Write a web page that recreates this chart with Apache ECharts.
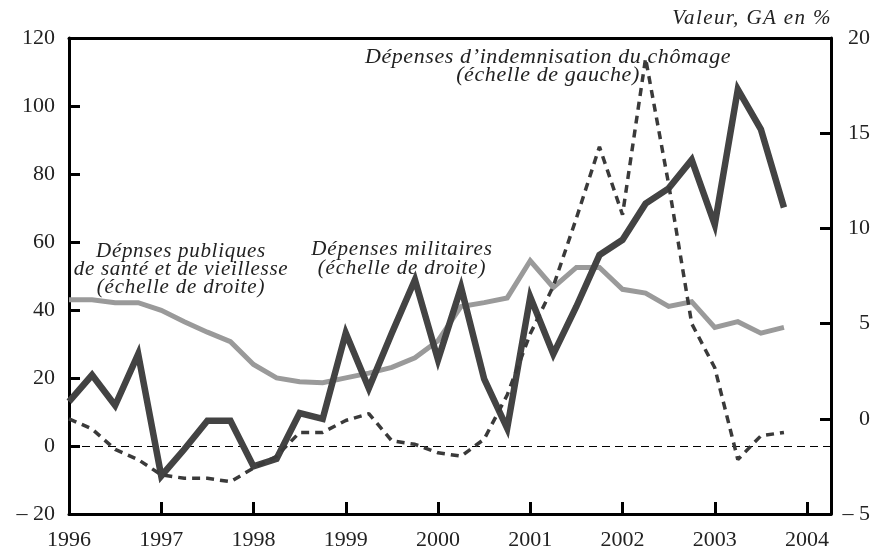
<!DOCTYPE html>
<html>
<head>
<meta charset="utf-8">
<script src="https://cdn.jsdelivr.net/npm/echarts@6/dist/echarts.min.js"></script>
<style>
  html, body { margin: 0; padding: 0; background: #fff; }
  #chart { width: 875px; height: 553px; }
</style>
</head>
<body>
<div id="chart"></div>
<script>
// Quarterly observations (decimal years)
const quarters = [
  1996.00, 1996.25, 1996.50, 1996.75,
  1997.00, 1997.25, 1997.50, 1997.75,
  1998.00, 1998.25, 1998.50, 1998.75,
  1999.00, 1999.25, 1999.50, 1999.75,
  2000.00, 2000.25, 2000.50, 2000.75,
  2001.00, 2001.25, 2001.50, 2001.75,
  2002.00, 2002.25, 2002.50, 2002.75,
  2003.00, 2003.25, 2003.50, 2003.75
];

// Dépenses d'indemnisation du chômage, GA en % (échelle de gauche)
const chomage = [
  8, 5, -1, -4,
  -8.5, -9.5, -9.5, -10.5,
  -6.5, -3, 4, 4,
  7.5, 9.5, 1.5, 0.5,
  -2, -3, 2, 15,
  33, 47, 67, 88,
  68, 114, 77, 36,
  23, -4, 3, 4
];

// Dépenses publiques de santé et de vieillesse, GA en % (échelle de droite)
const santeVieillesse = [
  6.25, 6.25, 6.1, 6.1,
  5.7, 5.1, 4.55, 4.05,
  2.85, 2.15, 1.95, 1.9,
  2.15, 2.4, 2.7, 3.2,
  4.1, 5.9, 6.1, 6.35,
  8.3, 6.9, 7.95, 7.95,
  6.8, 6.6, 5.9, 6.15,
  4.8, 5.1, 4.5, 4.8
];

// Dépenses militaires, GA en % (échelle de droite)
const militaires = [
  0.9, 2.3, 0.7, 3.4,
  -3.0, -1.6, -0.1, -0.1,
  -2.5, -2.1, 0.3, 0.0,
  4.5, 1.6, 4.5, 7.3,
  3.1, 6.9, 2.1, -0.5,
  6.4, 3.4, 5.9, 8.6,
  9.4, 11.3, 12.1, 13.6,
  10.2, 17.3, 15.2, 11.1
];

const pairs = (vals) => quarters.map((q, i) => [q, vals[i]]);
const FONT = '"Liberation Serif", "Times New Roman", serif';
const negFmt = (v) => (v < 0 ? '\u2013 ' + Math.abs(v) : String(v));

// Typeset annotations are slightly letter-spaced; set the canvas
// letterSpacing on every text draw (0 for everything else).
const tracking = {};
(function () {
  const proto = CanvasRenderingContext2D.prototype;
  const origFill = proto.fillText;
  proto.fillText = function (text, x, y, maxWidth) {
    if ('letterSpacing' in this) {
      const sp = (tracking[text] || 0) + 'px';
      if (this.letterSpacing !== sp) {
        this.letterSpacing = sp;
        const f = this.font;
        this.font = f;
      }
    }
    return maxWidth === undefined ? origFill.call(this, text, x, y) : origFill.call(this, text, x, y, maxWidth);
  };
})();

function label(text, x, y, size, spacing, align) {
  tracking[text] = spacing;
  return {
    type: 'text',
    x: x, y: y,
    style: {
      text: text,
      font: 'italic ' + size + 'px ' + FONT,
      fill: '#222',
      textAlign: align || 'center',
      textVerticalAlign: 'middle'
    }
  };
}

const chart = echarts.init(document.getElementById('chart'), null, { renderer: 'canvas' });

const axisLine = { show: true, onZero: false, lineStyle: { color: '#000', width: 3 } };
const tickStyle = { color: '#000', width: 3 };

chart.setOption({
  backgroundColor: '#fff',
  animation: false,
  grid: { left: 69, right: 44, top: 38, bottom: 39 },
  xAxis: [
    {
      type: 'value',
      min: 1996, max: 2004.26, interval: 1,
      axisLine: axisLine,
      axisTick: { show: true, inside: true, length: 12, lineStyle: tickStyle },
      splitLine: { show: false },
      axisLabel: {
        margin: 15,
        color: '#222',
        fontFamily: FONT, fontSize: 22,
        formatter: (v) => (Number.isInteger(v) ? String(v) : '')
      }
    },
    {
      type: 'value', position: 'top',
      min: 1996, max: 2004.26,
      axisLine: axisLine,
      axisTick: { show: false },
      axisLabel: { show: false },
      splitLine: { show: false }
    }
  ],
  yAxis: [
    {
      type: 'value', position: 'left',
      min: -20, max: 120, interval: 20,
      axisLine: axisLine,
      axisTick: { show: true, inside: true, length: 11, lineStyle: tickStyle },
      splitLine: { show: false },
      axisLabel: {
        margin: 14, color: '#222',
        fontFamily: FONT, fontSize: 22,
        formatter: negFmt
      }
    },
    {
      type: 'value', position: 'right',
      min: -5, max: 20, interval: 5,
      axisLine: axisLine,
      axisTick: { show: true, inside: true, length: 11, lineStyle: tickStyle },
      splitLine: { show: false },
      axisLabel: {
        margin: 39, align: 'right', color: '#222',
        fontFamily: FONT, fontSize: 22,
        formatter: negFmt
      }
    }
  ],
  series: [
    {
      name: 'Dépenses publiques de santé et de vieillesse',
      type: 'line',
      xAxisIndex: 0, yAxisIndex: 1,
      data: pairs(santeVieillesse),
      symbol: 'none',
      lineStyle: { color: '#9a9a9a', width: 5, join: 'miter' },
      z: 2
    },
    {
      name: 'Dépenses militaires',
      type: 'line',
      xAxisIndex: 0, yAxisIndex: 1,
      data: pairs(militaires),
      symbol: 'none',
      lineStyle: { color: '#434343', width: 6.5, join: 'miter' },
      z: 3
    },
    {
      name: 'Dépenses d\u2019indemnisation du chômage',
      type: 'line',
      xAxisIndex: 0, yAxisIndex: 0,
      data: pairs(chomage),
      symbol: 'none',
      lineStyle: { color: '#3a3a3a', width: 3.5, type: [8, 6] },
      z: 4,
      markLine: {
        silent: true,
        symbol: 'none',
        label: { show: false },
        lineStyle: { color: '#000', width: 1, type: [8, 5] },
        data: [{ yAxis: 0 }],
        z: 1
      }
    }
  ],
  graphic: [
    label('Valeur, GA en %', 832, 18, 21, 1.4, 'right'),
    label('Dépenses d\u2019indemnisation du chômage', 548, 57, 22, 0.6),
    label('(échelle de gauche)', 548, 75, 22, 0.6),
    label('Dépnses publiques', 181, 251, 21, 0.7),
    label('de santé et de vieillesse', 181, 269, 21, 0.7),
    label('(échelle de droite)', 181, 287, 21, 0.8),
    label('Dépenses militaires', 402, 249, 21, 0.85)
  ].concat([label('(échelle de droite)', 402, 268, 21, 0.8)])
});
</script>
</body>
</html>
